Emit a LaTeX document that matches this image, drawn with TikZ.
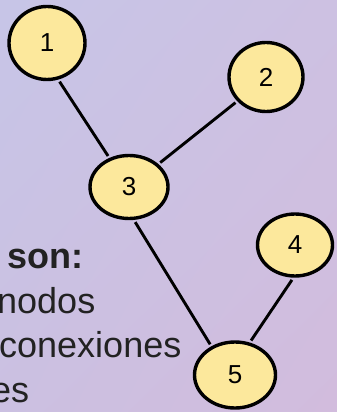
\documentclass[tikz,border=0pt]{standalone}
\usepackage{fontspec}
\setmainfont{Liberation Sans}
\usetikzlibrary{shapes.geometric,shadings}

\definecolor{bgtopleft}{RGB}{199,197,231}
\definecolor{bgtopright}{RGB}{205,193,226}
\definecolor{bgbotleft}{RGB}{203,192,225}
\definecolor{bgbotright}{RGB}{210,188,221}
\definecolor{nodeyellow}{RGB}{252,232,156}
\definecolor{textgray}{RGB}{34,34,34}

\begin{document}
\begin{tikzpicture}[x=1pt,y=-1pt]

        \useasboundingbox (0,0) rectangle (337,412);
        \clip (0,0) rectangle (337,412);
        \shade[upper left=bgtopleft,upper right=bgtopright,
               lower left=bgbotleft,lower right=bgbotright]
          (0,0) rectangle (337,412);

        \begin{scope}[every node/.style={anchor=base west,text=textgray,
            font=\fontsize{36}{42}\selectfont,inner sep=0pt}]
          \node (son)  at (7,268)   {\bfseries son:};
          \node (nod)  at (-3,313)  {nodos};
          \node (con)  at (-1,357)  {conexiones};
          \node (es)   at (-9,402)  {es};
        \end{scope}

        \begin{scope}[every node/.style={ellipse,draw,line width=3.4pt,
            fill=nodeyellow,inner sep=0pt,outer sep=4pt,
            font=\fontsize{26}{26}\selectfont}]
          \node[minimum width=76pt,minimum height=73pt] (1)  at (47,43)   {1};
          \node[minimum width=74pt,minimum height=69pt] (2)  at (266,77)  {2};
          \node[minimum width=78pt,minimum height=63pt] (3)  at (129,187) {3};
          \node[minimum width=75pt,minimum height=62pt] (4)  at (295,245) {4};
          \node[minimum width=81pt,minimum height=66pt] (5)  at (235,375) {5};
        \end{scope}

        \begin{scope}[every edge/.style={draw,line width=2.9pt}]
          \path (1.-72)  edge (3.124);
          \path (2.220)  edge (3.38);
          \path (3.-80)  edge (5.129);
          \path (4.-95)  edge (5.65);
        \end{scope}

      \end{tikzpicture}
\end{document}
